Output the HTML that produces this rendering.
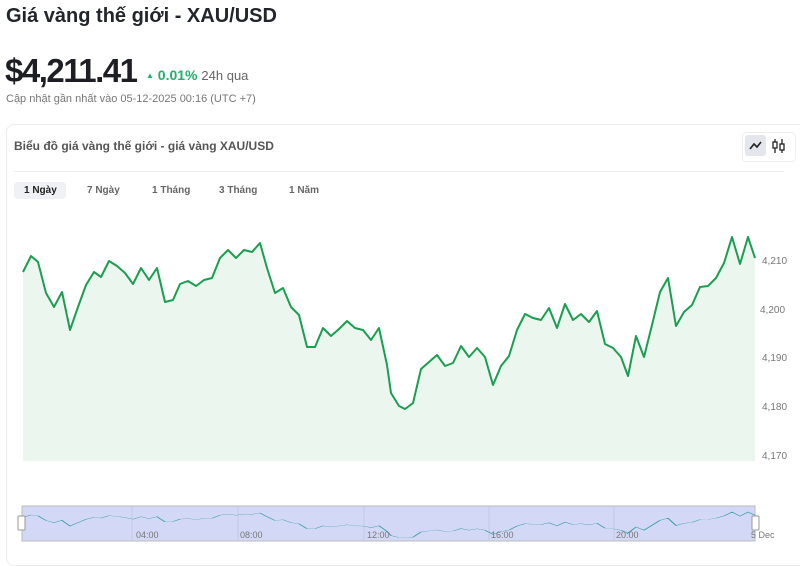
<!DOCTYPE html>
<html><head><meta charset="utf-8"><style>
body{margin:0;width:800px;height:553px;background:#fff;font-family:"Liberation Sans",sans-serif;overflow:hidden;position:relative;color:#1d1f24}
.a{position:absolute;white-space:nowrap}
</style></head><body>
<div class="a" style="left:6px;top:5px;font-size:20px;font-weight:bold;color:#22252b">Giá vàng thế giới - XAU/USD</div>
<div class="a" style="left:5px;top:52px;font-size:33px;font-weight:bold;letter-spacing:-1.5px">$4,211.41</div>
<div class="a" style="left:146px;top:67px;font-size:14px;font-weight:bold;color:#1fb06b"><span style="font-size:8px;vertical-align:2px">▲</span> 0.01% <span style="font-weight:normal;color:#666;font-size:13px">24h qua</span></div>
<div class="a" style="left:6px;top:93px;font-size:11px;color:#777">Cập nhật gần nhất vào 05-12-2025 00:16 (UTC +7)</div>
<div class="a" style="left:6px;top:124px;width:800px;height:440px;border:1px solid #ececef;border-radius:8px"></div>
<div class="a" style="left:14px;top:139px;font-size:12px;font-weight:bold;color:#555">Biểu đồ giá vàng thế giới - giá vàng XAU/USD</div>
<div class="a" style="left:14px;top:171px;width:770px;height:1px;background:#eee"></div>
<div class="a" style="left:742px;top:132px;width:52px;height:28px;border:1px solid #eee;border-radius:4px"></div>
<div class="a" style="left:745px;top:135px;width:21px;height:21px;background:#e4e6ee;border-radius:3px"></div>
<svg class="a" style="left:745px;top:135px" width="50" height="22"><path d="M5 14 L9 9 L12 12 L16 7" stroke="#222" stroke-width="1.6" fill="none"/><g stroke="#222" stroke-width="1.3" fill="none"><line x1="30" y1="4" x2="30" y2="18"/><rect x="28" y="7" width="4" height="6" fill="#fff"/><line x1="37" y1="4" x2="37" y2="18"/><rect x="35" y="9" width="4" height="6" fill="#fff"/></g></svg>
<div class="a" style="left:14px;top:182px;width:52px;height:17px;background:#f0f1f4;border-radius:4px"></div>
<div class="a" style="left:24px;top:185px;font-size:10px;font-weight:bold;color:#222">1 Ngày</div>
<div class="a" style="left:87px;top:185px;font-size:10px;font-weight:bold;color:#666">7 Ngày</div>
<div class="a" style="left:152px;top:185px;font-size:10px;font-weight:bold;color:#666">1 Tháng</div>
<div class="a" style="left:219px;top:185px;font-size:10px;font-weight:bold;color:#666">3 Tháng</div>
<div class="a" style="left:289px;top:185px;font-size:10px;font-weight:bold;color:#666">1 Năm</div>
<svg class="a" style="left:0;top:0" width="800" height="553">
<defs><path id="p" d="M23 272L31 256L38 262L46 293L54 307L62 292L70 330L78 307L86 285L94 272L101 277L109 261L117 266L125 273L133 284L141 268L149 280L157 268L165 302L173 300L180 284L188 281L196 286L204 280L212 278L220 258L228 250L236 258L244 250L252 252L260 243L267 268L275 293L283 288L291 307L299 315L307 347L315 347L323 328L331 336L339 329L347 321L355 328L363 330L371 340L379 328L387 365L391 393L399 406L405 409L413 403L421 369L429 362L437 355L445 366L453 363L461 346L469 357L477 348L485 357L493 385L501 366L509 356L517 330L525 314L533 318L541 320L549 308L557 328L565 304L573 320L581 314L589 322L597 311L605 344L613 348L621 357L628 376L636 336L644 357L652 325L660 292L668 278L676 326L684 312L692 305L700 287L708 286L716 278L724 263L732 237L740 264L748 237L755 258"/></defs>
<path d="M23 272L31 256L38 262L46 293L54 307L62 292L70 330L78 307L86 285L94 272L101 277L109 261L117 266L125 273L133 284L141 268L149 280L157 268L165 302L173 300L180 284L188 281L196 286L204 280L212 278L220 258L228 250L236 258L244 250L252 252L260 243L267 268L275 293L283 288L291 307L299 315L307 347L315 347L323 328L331 336L339 329L347 321L355 328L363 330L371 340L379 328L387 365L391 393L399 406L405 409L413 403L421 369L429 362L437 355L445 366L453 363L461 346L469 357L477 348L485 357L493 385L501 366L509 356L517 330L525 314L533 318L541 320L549 308L557 328L565 304L573 320L581 314L589 322L597 311L605 344L613 348L621 357L628 376L636 336L644 357L652 325L660 292L668 278L676 326L684 312L692 305L700 287L708 286L716 278L724 263L732 237L740 264L748 237L755 258L755 461L23 461Z" fill="#ebf6ef"/>
<use href="#p" stroke="#1a9e50" stroke-width="2" fill="none" stroke-linejoin="round"/>
<g font-size="10" fill="#777" font-family="Liberation Sans,sans-serif"><text x="762" y="264">4,210</text><text x="760" y="313">4,200</text><text x="762" y="361">4,190</text><text x="762" y="410">4,180</text><text x="762" y="459">4,170</text></g>
<rect x="22" y="506" width="733" height="35" fill="#d3d8f6" stroke="#bbb"/>
<g stroke="#c5c9e6"><line x1="132" y1="506" x2="132" y2="541"/><line x1="238" y1="506" x2="238" y2="541"/><line x1="364" y1="506" x2="364" y2="541"/><line x1="489" y1="506" x2="489" y2="541"/><line x1="614" y1="506" x2="614" y2="541"/></g>
<use href="#p" transform="matrix(1 0 0 0.1512 0 476.2)" stroke="#3f9fa3" stroke-width="1.6" fill="none" vector-effect="non-scaling-stroke"/>
<g font-size="9" fill="#777" font-family="Liberation Sans,sans-serif"><text x="136" y="538">04:00</text><text x="240" y="538">08:00</text><text x="367" y="538">12:00</text><text x="491" y="538">16:00</text><text x="616" y="538">20:00</text><text x="751" y="538">5 Dec</text></g>
<rect x="18" y="516" width="7" height="14" fill="#fff" stroke="#999" rx="1"/>
<rect x="752" y="516" width="7" height="14" fill="#fff" stroke="#999" rx="1"/>
</svg>
</body></html>
